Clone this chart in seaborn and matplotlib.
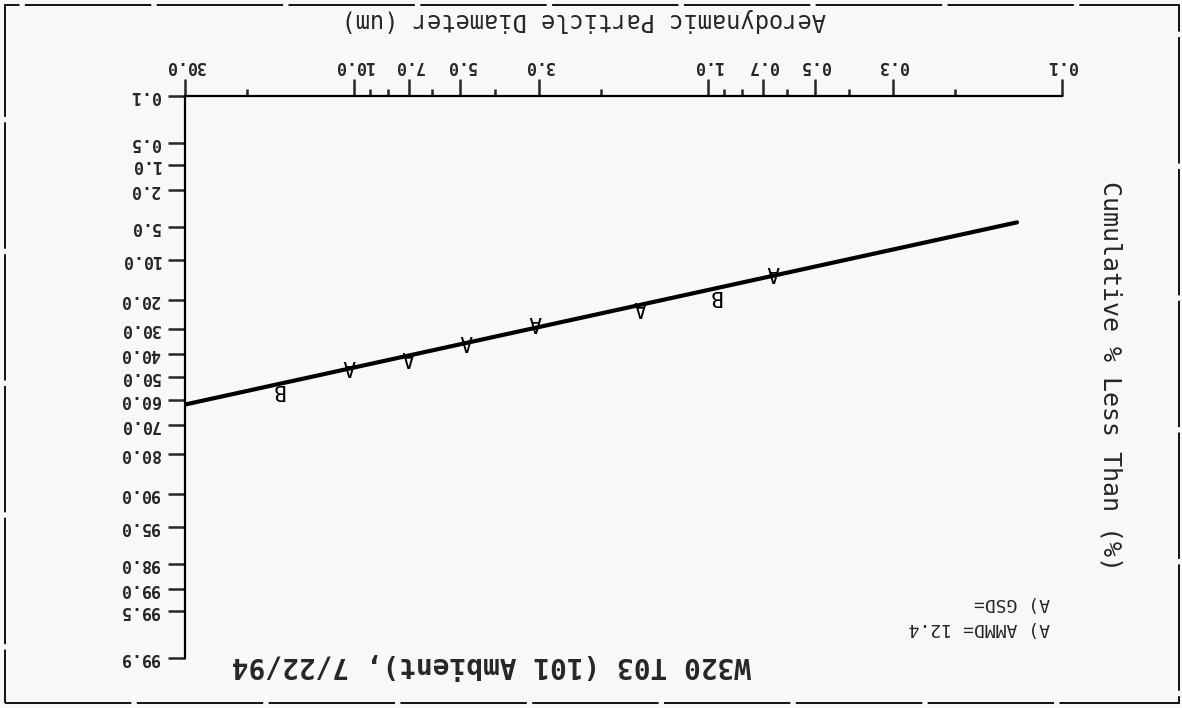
import numpy as np
import matplotlib
matplotlib.use("Agg")
import matplotlib.pyplot as plt
import seaborn as sns
from statistics import NormalDist
from matplotlib.patches import Rectangle
from matplotlib.ticker import FixedLocator, FixedFormatter, NullFormatter

# measured points (diameter in um, cumulative % less than)
diam_um = [16.4, 10.3, 7.0, 4.8, 3.08, 1.55, 0.955, 0.652]
cum_pct = [55.5, 45.0, 41.1, 34.8, 27.4, 22.2, 18.8, 12.3]
point_tags = ["B", "A", "A", "A", "A", "A", "B", "A"]

# fitted line end points
fit_diam = [30.0, 0.134]
fit_pct = [61.9, 4.45]

x_major = [0.1, 0.3, 0.5, 0.7, 1.0, 3.0, 5.0, 7.0, 10.0, 30.0]
x_minor = [0.2, 0.4, 0.6, 0.8, 0.9, 2.0, 4.0, 6.0, 8.0, 9.0, 20.0]
y_ticks = [0.1, 0.5, 1.0, 2.0, 5.0, 10.0, 20.0, 30.0, 40.0, 50.0, 60.0,
           70.0, 80.0, 90.0, 95.0, 98.0, 99.0, 99.5, 99.9]

title = "W320 T03 (101 Ambient), 7/22/94"
xlabel = "Aerodynamic Particle Diameter (um)"
ylabel = "Cumulative % Less Than (%)"
legend_lines = ["A) AMMD= 12.4", "A) GSD="]

sns.set_style("white")
plt.rcParams["font.family"] = ["DejaVu Sans Mono", "DejaVu Sans"]

# probability scale for the y axis
_nd = NormalDist()
_ppf = np.vectorize(lambda v: _nd.inv_cdf(v / 100.0), otypes=[float])
_cdf = np.vectorize(lambda v: _nd.cdf(v) * 100.0, otypes=[float])


def pct_to_z(p):
    p = np.clip(np.asarray(p, dtype=float), 1e-6, 100 - 1e-6)
    return _ppf(p)


def z_to_pct(z):
    return _cdf(np.asarray(z, dtype=float))


bg = "#f8f8f8"
fig = plt.figure(figsize=(11.82, 7.08), dpi=100, facecolor=bg)
ax = fig.add_axes([185 / 1182, 1 - 658 / 708, (1062 - 185) / 1182, (658 - 96) / 708])
ax.set_facecolor(bg)

ax.set_xscale("log")
ax.set_yscale("function", functions=(pct_to_z, z_to_pct))
ax.set_xlim(30.0, 0.1)
ax.set_ylim(99.9, 0.1)

# fitted line
sns.lineplot(x=fit_diam, y=fit_pct, ax=ax, color="black", linewidth=3,
             sort=False, estimator=None)

# letter markers (drawn upside down like the rest of the page)
for d, p, t in zip(diam_um, cum_pct, point_tags):
    ax.text(d, p, t, rotation=180, ha="center", va="center",
            fontsize=15, color="black")

# axes styling
for s in ["right", "bottom"]:
    ax.spines[s].set_visible(False)
for s in ["top", "left"]:
    ax.spines[s].set_linewidth(1.6)
    ax.spines[s].set_color("black")

ax.xaxis.tick_top()
ax.xaxis.set_major_locator(FixedLocator(x_major))
ax.xaxis.set_major_formatter(FixedFormatter([f"{v:.1f}" for v in x_major]))
ax.xaxis.set_minor_locator(FixedLocator(x_minor))
ax.xaxis.set_minor_formatter(NullFormatter())
ax.tick_params(axis="x", which="major", direction="out", length=12, width=1.8,
               pad=3, labelsize=12, labelrotation=180, top=True, bottom=False)
ax.tick_params(axis="x", which="minor", direction="out", length=5, width=1.8,
               top=True, bottom=False)
for lab in ax.get_xticklabels():
    lab.set_fontweight("bold")

ax.yaxis.set_major_locator(FixedLocator(y_ticks))
ax.yaxis.set_major_formatter(FixedFormatter([f"{v:.1f}" for v in y_ticks]))
ax.yaxis.set_minor_locator(FixedLocator([]))
ax.tick_params(axis="y", which="major", direction="out", length=12, width=1.8,
               pad=6, labelsize=12, labelrotation=180, left=True, right=False)
for lab in ax.get_yticklabels():
    lab.set_fontweight("bold")
    lab.set_verticalalignment("center")

ax.set_xlabel("")
ax.set_ylabel("")

# page texts
fig.text(584 / 1182, 1 - 20 / 708, xlabel, rotation=180, ha="center",
         va="center", fontsize=17)
fig.text(1110 / 1182, 1 - 376 / 708, ylabel, rotation=270, ha="center",
         va="center", fontsize=18)
fig.text(491 / 1182, 1 - 665 / 708, title, rotation=180, ha="center",
         va="center", fontsize=20, fontweight="bold")
fig.text(1050 / 1182, 1 - 628 / 708, legend_lines[0], rotation=180,
         ha="right", va="center", fontsize=13)
fig.text(1050 / 1182, 1 - 603 / 708, legend_lines[1], rotation=180,
         ha="right", va="center", fontsize=13)

# scanned page border
fig.patches.append(Rectangle((5 / 1182, 5 / 708), 1174 / 1182, 698 / 708,
                             transform=fig.transFigure, fill=False,
                             edgecolor="black", linewidth=1.3,
                             linestyle=(0, (70, 3))))

fig.savefig("out.png", dpi=100, facecolor=bg)
